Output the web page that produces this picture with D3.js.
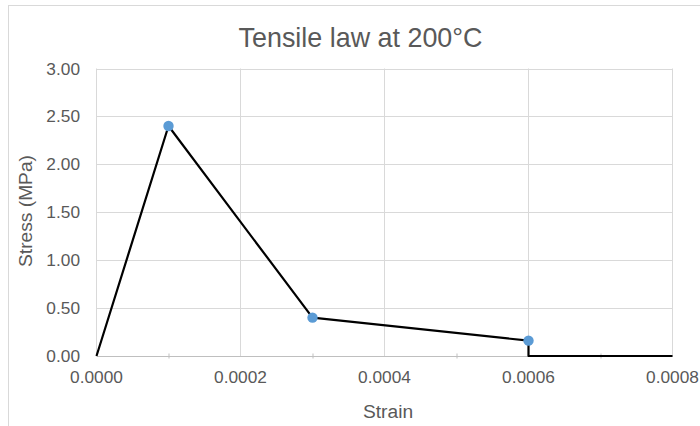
<!DOCTYPE html>
<html><head><meta charset="utf-8">
<script src="https://cdn.jsdelivr.net/npm/d3@7"></script>
<style>body{margin:0;background:#fff}svg{display:block}</style>
</head><body>
<script>
const strain = [0, 0.0001, 0.0003, 0.0006, 0.0006, 0.0008];
const stress = [0, 2.4, 0.4, 0.16, 0, 0];
const markerStrain = [0.0001, 0.0003, 0.0006];
const markerStress = [2.4, 0.4, 0.16];
const xTicks = [0, 0.0002, 0.0004, 0.0006, 0.0008];
const xMinorTicks = [0.0001, 0.0003, 0.0005, 0.0007];
const yTicks = [0, 0.5, 1, 1.5, 2, 2.5, 3];

const W = 700, H = 426;
const svg = d3.select("body").append("svg").attr("width", W).attr("height", H);
const font = "Liberation Sans, Arial, sans-serif";
const grey = "#595959";

svg.append("rect").attr("x", 8.5).attr("y", 5.5).attr("width", W + 10).attr("height", H + 10)
  .attr("fill", "#fff").attr("stroke", "#d9d9d9").attr("stroke-width", 1);

const x = d3.scaleLinear().domain([0, 0.0008]).range([96.5, 672.5]);
const y = d3.scaleLinear().domain([0, 3]).range([356, 68.5]);

// gridlines
svg.append("g").selectAll("line").data(yTicks.filter(d => d > 0)).join("line")
  .attr("x1", x(0)).attr("x2", x(0.0008)).attr("y1", d => Math.round(y(d)) + 0.5).attr("y2", d => Math.round(y(d)) + 0.5)
  .attr("stroke", "#d9d9d9").attr("stroke-width", 1);
svg.append("g").selectAll("line").data(xTicks).join("line")
  .attr("x1", d => x(d)).attr("x2", d => x(d)).attr("y1", y(3)).attr("y2", y(0))
  .attr("stroke", "#d9d9d9").attr("stroke-width", 1);

// x axis minor ticks
const xAxis = d3.axisBottom(x).tickValues(xMinorTicks).tickSize(5).tickFormat("");
const gx = svg.append("g").attr("transform", `translate(0,${y(0) - 2.5})`).call(xAxis);
gx.select(".domain").remove();
gx.selectAll("line").attr("stroke", "#bfbfbf");
svg.append("line").attr("x1", x(0)).attr("x2", x(0.0008)).attr("y1", y(0) + 0.5).attr("y2", y(0) + 0.5)
  .attr("stroke", "#bfbfbf");

svg.append("g").selectAll("text").data(xTicks).join("text")
  .attr("x", d => x(d)).attr("y", y(0) + 27).attr("text-anchor", "middle")
  .attr("font-family", font).attr("font-size", 17.3).attr("fill", grey)
  .text(d => d3.format(".4f")(d));

svg.append("g").selectAll("text").data(yTicks).join("text")
  .attr("x", 80).attr("y", d => y(d) + 6).attr("text-anchor", "end")
  .attr("font-family", font).attr("font-size", 17.3).attr("fill", grey)
  .text(d => d3.format(".2f")(d));

// line
const pts = strain.map((s, i) => [s, stress[i]]);
svg.append("path").datum(pts)
  .attr("d", d3.line().x(d => x(d[0])).y(d => y(d[1])))
  .attr("fill", "none").attr("stroke", "#000").attr("stroke-width", 2.2).attr("stroke-linejoin", "round");

svg.append("g").selectAll("circle").data(markerStrain.map((s, i) => [s, markerStress[i]])).join("circle")
  .attr("cx", d => x(d[0])).attr("cy", d => y(d[1])).attr("r", 5.2)
  .attr("fill", "#5b9bd5");

// titles
svg.append("text").attr("x", 360.5).attr("y", 47).attr("text-anchor", "middle")
  .attr("font-family", font).attr("font-size", 26.9).attr("fill", grey).text("Tensile law at 200°C");
svg.append("text").attr("x", 388).attr("y", 418).attr("text-anchor", "middle")
  .attr("font-family", font).attr("font-size", 19.2).attr("fill", grey).text("Strain");
svg.append("text").attr("transform", `translate(32,${211}) rotate(-90)`).attr("text-anchor", "middle")
  .attr("font-family", font).attr("font-size", 19.2).attr("fill", grey).text("Stress (MPa)");
</script>
</body></html>
